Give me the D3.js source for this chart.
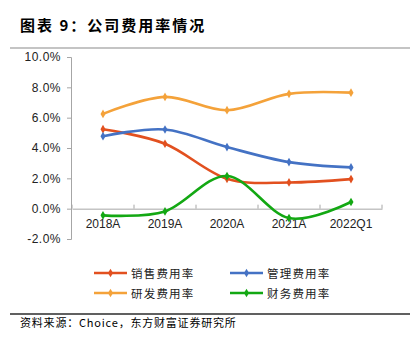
<!DOCTYPE html>
<html>
<head>
<meta charset="utf-8">
<script src="https://cdn.jsdelivr.net/npm/d3@7"></script>
<style>
  body { margin: 0; background: #fff; }
  text { font-family: "Liberation Sans", "Noto Sans CJK SC", sans-serif; }
</style>
</head>
<body>
<script>
// chart data
var categories = ["2018A", "2019A", "2020A", "2021A", "2022Q1"];
var seriesNames = ["销售费用率", "管理费用率", "研发费用率", "财务费用率"];
var sales = [5.24, 4.28, 1.97, 1.73, 1.95];
var admin = [4.78, 5.22, 4.06, 3.07, 2.72];
var rnd = [6.25, 7.37, 6.49, 7.57, 7.65];
var finance = [-0.44, -0.18, 2.15, -0.62, 0.44];
var yTicks = [-2, 0, 2, 4, 6, 8, 10];
var colors = ["#E2501F", "#4472C4", "#F4A23A", "#13A813"];

var allSeries = [sales, admin, rnd, finance];

var W = 416, H = 347;
var svg = d3.select("body").append("svg").attr("width", W).attr("height", H);

// title + rules
svg.append("text").attr("x", 20).attr("y", 31)
  .style("font-family", "Noto Sans CJK SC").style("font-weight", "bold")
  .style("font-size", "15px").style("letter-spacing", "2px")
  .text("图表 9：公司费用率情况");
svg.append("line").attr("x1", 10).attr("x2", 410).attr("y1", 48).attr("y2", 48)
  .attr("stroke", "#b0b0b0").attr("stroke-width", 1.5);
svg.append("line").attr("x1", 10).attr("x2", 410).attr("y1", 314).attr("y2", 314)
  .attr("stroke", "#606060").attr("stroke-width", 2);
svg.append("text").attr("x", 20).attr("y", 327)
  .style("font-family", "Noto Sans CJK SC").style("font-size", "11px")
  .style("letter-spacing", "0.8px")
  .text("资料来源：Choice，东方财富证券研究所");

// scales
var x = d3.scaleBand().domain(categories).range([72, 382]);
var y = d3.scaleLinear().domain([-2, 10]).range([239, 57]);

var axisColor = "#a6a6a6";

// y axis
var yAxis = svg.append("g").attr("transform", "translate(71,0)")
  .call(d3.axisLeft(y).tickValues(yTicks).tickSize(4).tickPadding(6)
    .tickFormat(function(d) { return d.toFixed(1) + "%"; }));
yAxis.select(".domain").attr("stroke", axisColor);
yAxis.selectAll(".tick line").attr("stroke", axisColor);
yAxis.selectAll("text").attr("fill", "#222").style("font-size", "12px")
  .style("font-family", "Liberation Sans").style("letter-spacing", "0.5px");

// x axis at zero, ticks pointing up
var xAxis = svg.append("g").attr("transform", "translate(0," + y(0) + ")")
  .call(d3.axisTop(x).tickSizeOuter(0).tickSize(0).tickFormat(""));
xAxis.select(".domain").attr("stroke", axisColor);
var bounds = x.domain().map(function(c) { return x(c); }).concat([x.range()[1]]);
xAxis.selectAll(".edge").data(bounds).enter().append("line")
  .attr("x1", function(d) { return d; }).attr("x2", function(d) { return d; })
  .attr("y1", 0).attr("y2", -4).attr("stroke", axisColor);
svg.append("g").selectAll("text").data(categories).enter().append("text")
  .attr("x", function(d) { return x(d) + x.bandwidth() / 2; })
  .attr("y", y(0) + 19)
  .attr("text-anchor", "middle")
  .style("font-size", "12px").attr("fill", "#222")
  .text(function(d) { return d; });

// lines
var line = d3.line()
  .x(function(d, i) { return x(categories[i]) + x.bandwidth() / 2; })
  .y(function(d) { return y(d); })
  .curve(d3.curveCardinal.tension(0));

var diamond = d3.symbol().type(d3.symbolDiamond).size(22);

allSeries.forEach(function(s, k) {
  svg.append("path").datum(s)
    .attr("d", line).attr("fill", "none")
    .attr("stroke", colors[k]).attr("stroke-width", 2.6);
  svg.append("g").selectAll("path").data(s).enter().append("path")
    .attr("d", diamond)
    .attr("transform", function(d, i) {
      return "translate(" + (x(categories[i]) + x.bandwidth() / 2) + "," + y(d) + ")";
    })
    .attr("fill", colors[k]);
});

// legend
var legendPos = [[94, 273], [230, 273], [94, 293], [230, 293]];
seriesNames.forEach(function(name, k) {
  var p = legendPos[k];
  var g = svg.append("g").attr("transform", "translate(" + p[0] + "," + p[1] + ")");
  g.append("line").attr("x1", 0).attr("x2", 33).attr("y1", 0).attr("y2", 0)
    .attr("stroke", colors[k]).attr("stroke-width", 2.6);
  g.append("path").attr("d", diamond).attr("transform", "translate(16.5,0)").attr("fill", colors[k]);
  g.append("text").attr("x", 37).attr("y", 4.5)
    .style("font-family", "Noto Sans CJK SC").style("font-size", "11.5px")
    .style("letter-spacing", "1.2px").attr("fill", "#222")
    .text(name);
});
</script>
</body>
</html>
